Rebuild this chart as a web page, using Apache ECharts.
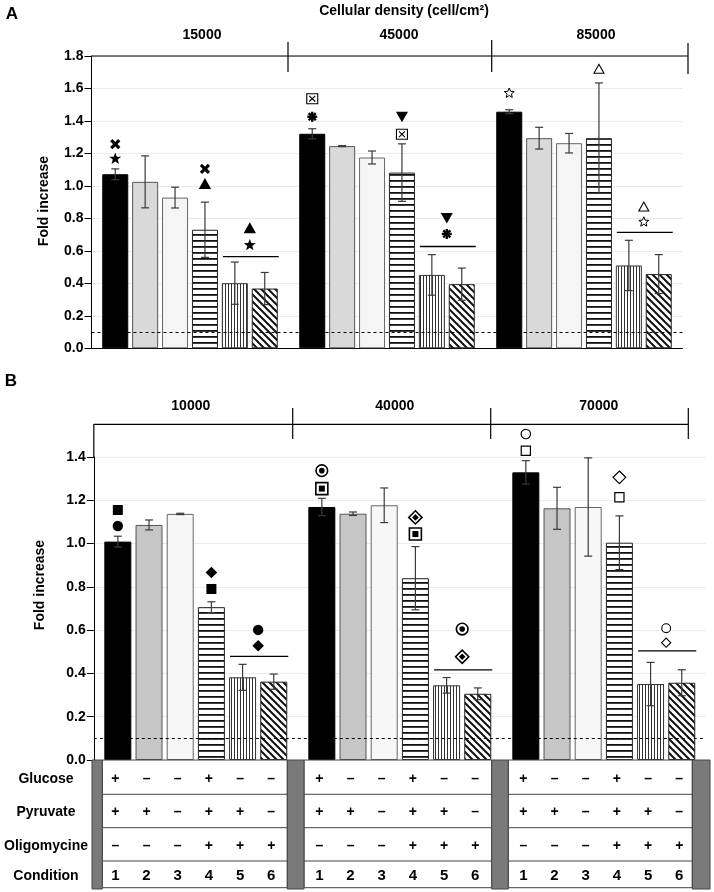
<!DOCTYPE html>
<html><head><meta charset="utf-8">
<script src="https://cdn.jsdelivr.net/npm/echarts@6/dist/echarts.min.js"></script>
<style>html,body{margin:0;padding:0;background:#fff}#c{width:714px;height:892px}</style>
</head><body><div id="c"></div>
<script>
// ---------------- DATA ----------------
const densityA = ['15000', '45000', '85000'];
const densityB = ['10000', '40000', '70000'];
const yTicksA = [0, 0.2, 0.4, 0.6, 0.8, 1.0, 1.2, 1.4, 1.6, 1.8];
const yTicksB = [0, 0.2, 0.4, 0.6, 0.8, 1.0, 1.2, 1.4];
const threshold = 0.1;

// Panel A means (one array per condition, across densities)
const foldA_c1 = [1.072, 1.321, 1.457];
const foldA_c2 = [1.025, 1.245, 1.294];
const foldA_c3 = [0.928, 1.175, 1.263];
const foldA_c4 = [0.730, 1.082, 1.294];
const foldA_c5 = [0.401, 0.452, 0.510];
const foldA_c6 = [0.368, 0.395, 0.457];
// Panel A error bars
const errA_c1 = [0.033, 0.031, 0.012];
const errA_c2 = [0.160, 0.003, 0.067];
const errA_c3 = [0.064, 0.040, 0.060];
const errA_c4 = [0.170, 0.177, 0.340];
const errA_c5 = [0.130, 0.125, 0.155];
const errA_c6 = [0.099, 0.099, 0.120];

// Panel B means
const foldB_c1 = [1.009, 1.169, 1.329];
const foldB_c2 = [1.086, 1.138, 1.163];
const foldB_c3 = [1.137, 1.177, 1.169];
const foldB_c4 = [0.706, 0.840, 1.004];
const foldB_c5 = [0.382, 0.345, 0.351];
const foldB_c6 = [0.362, 0.306, 0.357];
// Panel B error bars
const errB_c1 = [0.025, 0.040, 0.054];
const errB_c2 = [0.023, 0.008, 0.097];
const errB_c3 = [0.003, 0.080, 0.227];
const errB_c4 = [0.025, 0.146, 0.124];
const errB_c5 = [0.060, 0.036, 0.100];
const errB_c6 = [0.035, 0.027, 0.060];

// Significance markers: [density index, bar position (4.5 = between 5 and 6), y value, symbol]
const marksA = [
  [0, 0, 1.257, 'x'], [0, 0, 1.170, 'star'], [0, 3, 1.105, 'x'], [0, 3, 1.012, 'triU'],
  [0, 4.5, 0.740, 'triU'], [0, 4.5, 0.638, 'star'],
  [1, 0, 1.537, 'boxX'], [1, 0, 1.426, 'ast'], [1, 3, 1.426, 'triD'], [1, 3, 1.318, 'boxX'],
  [1, 4.5, 0.802, 'triD'], [1, 4.5, 0.704, 'ast'],
  [2, 0, 1.574, 'starO'], [2, 3, 1.718, 'triUO'], [2, 4.5, 0.870, 'triUO'], [2, 4.5, 0.781, 'starO']
];
const marksB = [
  [0, 0, 1.155, 'sq'], [0, 0, 1.081, 'circ'], [0, 3, 0.866, 'dia'], [0, 3, 0.790, 'sq'],
  [0, 4.5, 0.601, 'circ'], [0, 4.5, 0.528, 'dia'],
  [1, 0, 1.337, 'circDot'], [1, 0, 1.254, 'sqDot'], [1, 3, 1.121, 'diaDot'], [1, 3, 1.044, 'sqDot'],
  [1, 4.5, 0.605, 'circDot'], [1, 4.5, 0.477, 'diaDot'],
  [2, 0, 1.506, 'circO'], [2, 0, 1.429, 'sqO'], [2, 3, 1.306, 'diaO'], [2, 3, 1.214, 'sqO'],
  [2, 4.5, 0.609, 'circOs'], [2, 4.5, 0.542, 'diaOs']
];
// Horizontal significance lines over conditions 5-6: [density index, y value]
const sigLineA = [[0, 0.565], [1, 0.627], [2, 0.714]];
const sigLineB = [[0, 0.479], [1, 0.416], [2, 0.504]];

// Table
const rowLabels = ['Glucose', 'Pyruvate', 'Oligomycine', 'Condition'];
const glucose = ['+', '–', '–', '+', '–', '–'];
const pyruvate = ['+', '+', '–', '+', '+', '–'];
const oligomycine = ['–', '–', '–', '+', '+', '+'];
const conditions = ['1', '2', '3', '4', '5', '6'];

// ---------------- STYLE ----------------
const FONT = '"Liberation Sans", Arial, Helvetica, sans-serif';
const BW_A = 26, GAP_A = 0.15, BW_B = 27, GAP_B = 0.155;

function makePattern(kind) {
  const c = document.createElement('canvas');
  const g = c.getContext('2d');
  if (kind === 'h') {
    c.width = 4; c.height = 6;
    g.fillStyle = '#fff'; g.fillRect(0, 0, 4, 6);
    g.fillStyle = '#111'; g.fillRect(0, 0, 4, 1.8);
  } else if (kind === 'v') {
    c.width = 3; c.height = 4;
    g.fillStyle = '#fff'; g.fillRect(0, 0, 3, 4);
    g.fillStyle = '#333'; g.fillRect(0, 0, 1, 4);
  } else {
    c.width = 7; c.height = 7;
    g.fillStyle = '#fff'; g.fillRect(0, 0, 7, 7);
    g.strokeStyle = '#111'; g.lineWidth = 2;
    [-7, 0, 7].forEach(k => { g.beginPath(); g.moveTo(k - 1, -1); g.lineTo(k + 8, 8); g.stroke(); });
  }
  return c;
}
const patH = makePattern('h'), patV = makePattern('v'), patD = makePattern('d');

function barStyles(gray, light) {
  return [
    { color: '#000', borderColor: '#000', borderWidth: 1 },
    { color: gray, borderColor: '#555', borderWidth: 1 },
    { color: light, borderColor: '#666', borderWidth: 1 },
    { color: { image: patH, repeat: 'repeat' }, borderColor: '#222', borderWidth: 1 },
    { color: { image: patV, repeat: 'repeat' }, borderColor: '#333', borderWidth: 1 },
    { color: { image: patD, repeat: 'repeat' }, borderColor: '#222', borderWidth: 1 }
  ];
}
const stylesA = barStyles('#d9d9d9', '#f5f5f5');
const stylesB = barStyles('#c6c6c6', '#f7f7f7');

function starPts(x, y, R, r) {
  const p = [];
  for (let i = 0; i < 10; i++) {
    const a = -Math.PI / 2 + i * Math.PI / 5;
    const rad = i % 2 === 0 ? R : r;
    p.push([x + rad * Math.cos(a), y + rad * Math.sin(a)]);
  }
  return p;
}
function dia(x, y, r) { return [[x, y - r], [x + r, y], [x, y + r], [x - r, y]]; }

function markerEls(t, x, y) {
  const K = '#000';
  const F = { fill: K, stroke: null };
  const O = w => ({ fill: '#fff', stroke: K, lineWidth: w });
  const ln = (x1, y1, x2, y2, w) => ({ type: 'line', shape: { x1, y1, x2, y2 }, style: { stroke: K, lineWidth: w } });
  switch (t) {
    case 'x': return [ln(x - 4, y - 4, x + 4, y + 4, 3.2), ln(x - 4, y + 4, x + 4, y - 4, 3.2)];
    case 'star': return [{ type: 'polygon', shape: { points: starPts(x, y + 0.5, 6.3, 2.6) }, style: F }];
    case 'starO': return [{ type: 'polygon', shape: { points: starPts(x, y + 0.5, 5.2, 2.3) }, style: O(1) }];
    case 'triU': return [{ type: 'polygon', shape: { points: [[x, y - 6], [x + 6.2, y + 5], [x - 6.2, y + 5]] }, style: F }];
    case 'triUO': return [{ type: 'polygon', shape: { points: [[x, y - 5], [x + 5, y + 4], [x - 5, y + 4]] }, style: O(1.1) }];
    case 'triD': return [{ type: 'polygon', shape: { points: [[x - 6, y - 5], [x + 6, y - 5], [x, y + 5.5]] }, style: F }];
    case 'boxX': return [{ type: 'rect', shape: { x: x - 5.5, y: y - 5, width: 11, height: 10 }, style: O(1.1) },
      ln(x - 3, y - 2.8, x + 3, y + 2.8, 1.1), ln(x - 3, y + 2.8, x + 3, y - 2.8, 1.1)];
    case 'ast': {
      const arr = [];
      for (let i = 0; i < 4; i++) {
        const a = i * Math.PI / 4;
        arr.push(ln(x - 5 * Math.cos(a), y - 5 * Math.sin(a), x + 5 * Math.cos(a), y + 5 * Math.sin(a), 2.4));
      }
      return arr;
    }
    case 'sq': return [{ type: 'rect', shape: { x: x - 5, y: y - 5, width: 10, height: 10 }, style: F }];
    case 'circ': return [{ type: 'circle', shape: { cx: x, cy: y, r: 5.2 }, style: F }];
    case 'dia': return [{ type: 'polygon', shape: { points: dia(x, y, 5.8) }, style: F }];
    case 'circDot': return [{ type: 'circle', shape: { cx: x, cy: y, r: 5.8 }, style: O(1.6) },
      { type: 'circle', shape: { cx: x, cy: y, r: 2.8 }, style: F }];
    case 'sqDot': return [{ type: 'rect', shape: { x: x - 6, y: y - 6, width: 12, height: 12 }, style: O(1.6) },
      { type: 'rect', shape: { x: x - 3, y: y - 3, width: 6, height: 6 }, style: F }];
    case 'diaDot': return [{ type: 'polygon', shape: { points: dia(x, y, 6.6) }, style: O(1.6) },
      { type: 'polygon', shape: { points: dia(x, y, 3.3) }, style: F }];
    case 'circO': return [{ type: 'circle', shape: { cx: x, cy: y, r: 4.7 }, style: O(1.2) }];
    case 'circOs': return [{ type: 'circle', shape: { cx: x, cy: y, r: 4.4 }, style: O(1.1) }];
    case 'sqO': return [{ type: 'rect', shape: { x: x - 4.6, y: y - 4.6, width: 9.2, height: 9.2 }, style: O(1.2) }];
    case 'diaO': return [{ type: 'polygon', shape: { points: dia(x, y, 6.3) }, style: O(1.2) }];
    case 'diaOs': return [{ type: 'polygon', shape: { points: dia(x, y, 4.6) }, style: O(1.1) }];
  }
  return [];
}

// ---------------- SERIES BUILDERS ----------------
function barSeries(xi, yi, means, styles, bw, gap) {
  return means.map((arr, k) => {
    const s = {
      type: 'bar', xAxisIndex: xi, yAxisIndex: yi, data: arr, barWidth: bw,
      barGap: (gap * 100) + '%', itemStyle: styles[k], silent: true, z: 2
    };
    if (k === 0) {
      s.markLine = {
        silent: true, symbol: ['none', 'none'], label: { show: false }, z: 4,
        lineStyle: { color: '#000', type: [3, 3], width: 1.2 }, data: [{ yAxis: threshold }]
      };
    }
    return s;
  });
}
function errorSeries(xi, yi, means, errs, bw, gap) {
  const data = [];
  means.forEach((arr, k) => arr.forEach((m, j) => data.push([j, m, errs[k][j], k])));
  return {
    type: 'custom', xAxisIndex: xi, yAxisIndex: yi, z: 6, clip: false, silent: true, data,
    encode: { x: 0, y: 1 },
    renderItem: (p, api) => {
      const j = api.value(0), m = api.value(1), e = api.value(2), k = api.value(3);
      const per = bw * (1 + gap);
      const x = api.coord([j, m])[0] + (k - 2.5) * per;
      const yt = api.coord([j, m + e])[1], yb = api.coord([j, m - e])[1];
      const st = { stroke: '#3a3a3a', lineWidth: 1.2 };
      return {
        type: 'group', children: [
          { type: 'line', shape: { x1: x, y1: yt, x2: x, y2: yb }, style: st },
          { type: 'line', shape: { x1: x - 4, y1: yt, x2: x + 4, y2: yt }, style: st },
          { type: 'line', shape: { x1: x - 4, y1: yb, x2: x + 4, y2: yb }, style: st }
        ]
      };
    }
  };
}
function markerSeries(xi, yi, marks, bw, gap) {
  return {
    type: 'custom', xAxisIndex: xi, yAxisIndex: yi, z: 7, clip: false, silent: true,
    data: marks.map(m => [m[0], m[2], m[1]]),
    encode: { x: 0, y: 1 },
    renderItem: (p, api) => {
      const mk = marks[p.dataIndex];
      const per = bw * (1 + gap);
      const c = api.coord([api.value(0), api.value(1)]);
      const x = c[0] + (api.value(2) - 2.5) * per;
      return { type: 'group', children: markerEls(mk[3], x, c[1]) };
    }
  };
}
function sigLineSeries(xi, yi, lines, bw, gap) {
  return {
    type: 'custom', xAxisIndex: xi, yAxisIndex: yi, z: 7, clip: false, silent: true,
    data: lines, encode: { x: 0, y: 1 },
    renderItem: (p, api) => {
      const per = bw * (1 + gap);
      const c = api.coord([api.value(0), api.value(1)]);
      const x1 = c[0] + 1.5 * per - bw / 2 + 1, x2 = c[0] + 2.5 * per + bw / 2 + 1;
      return { type: 'line', shape: { x1, y1: c[1], x2, y2: c[1] }, style: { stroke: '#000', lineWidth: 1.3 } };
    }
  };
}

const meansA = [foldA_c1, foldA_c2, foldA_c3, foldA_c4, foldA_c5, foldA_c6];
const errsA = [errA_c1, errA_c2, errA_c3, errA_c4, errA_c5, errA_c6];
const meansB = [foldB_c1, foldB_c2, foldB_c3, foldB_c4, foldB_c5, foldB_c6];
const errsB = [errB_c1, errB_c2, errB_c3, errB_c4, errB_c5, errB_c6];

const lbl = { fontFamily: FONT, fontWeight: 'bold', fontSize: 14, color: '#000' };
function yAxis(gi, ticks) {
  return {
    type: 'value', gridIndex: gi, min: ticks[0], max: ticks[ticks.length - 1], interval: 0.2,
    axisLine: { show: true, lineStyle: { color: '#000', width: 1 } },
    axisTick: { show: true, length: 7, inside: false, lineStyle: { color: '#000' } },
    axisLabel: Object.assign({ margin: 8, formatter: v => v.toFixed(1) }, lbl),
    splitLine: { show: true, lineStyle: { color: '#ebebeb', width: 1 } }
  };
}
function xBottom(gi, cats) {
  return {
    type: 'category', gridIndex: gi, data: cats, position: 'bottom',
    axisLine: { show: true, lineStyle: { color: '#000', width: 1 } },
    axisTick: { show: false }, axisLabel: { show: false }, splitLine: { show: false }
  };
}
function xTop(gi, cats, margin, pad) {
  return {
    type: 'category', gridIndex: gi, data: cats, position: 'top',
    axisLine: { show: false }, axisTick: { show: false },
    axisLabel: Object.assign({ margin, padding: pad, interval: 0 }, lbl), splitLine: { show: false }
  };
}

const chart = echarts.init(document.getElementById('c'), null, { renderer: 'canvas' });
chart.setOption({
  animation: false,
  backgroundColor: '#fff',
  textStyle: { fontFamily: FONT },
  grid: [
    { left: 91.5, top: 56, width: 591, height: 292.3, containLabel: false, outerBoundsMode: 'none' },
    { left: 93.8, top: 457, width: 612, height: 303, containLabel: false, outerBoundsMode: 'none' }
  ],
  xAxis: [xBottom(0, densityA), xTop(0, densityA, 14, [0, 0, 0, 24]),
          xBottom(1, densityB), xTop(1, densityB, 44, [0, 10, 0, 0])],
  yAxis: [yAxis(0, yTicksA), yAxis(1, yTicksB)],
  series: [].concat(
    barSeries(0, 0, meansA, stylesA, BW_A, GAP_A),
    [errorSeries(0, 0, meansA, errsA, BW_A, GAP_A), markerSeries(0, 0, marksA, BW_A, GAP_A), sigLineSeries(0, 0, sigLineA, BW_A, GAP_A)],
    barSeries(2, 1, meansB, stylesB, BW_B, GAP_B),
    [errorSeries(2, 1, meansB, errsB, BW_B, GAP_B), markerSeries(2, 1, marksB, BW_B, GAP_B), sigLineSeries(2, 1, sigLineB, BW_B, GAP_B)]
  )
});

// ---------------- ANNOTATIONS / TABLE ----------------
const G = [];
const L = (x1, y1, x2, y2, w, c) => G.push({ type: 'line', silent: true, z: 10, shape: { x1, y1, x2, y2 }, style: { stroke: c || '#000', lineWidth: w || 1.2 } });
const T = (text, x, y, opt) => G.push(Object.assign({
  type: 'text', silent: true, z: 10, x, y,
  style: Object.assign({ text, fontFamily: FONT, fontWeight: 'bold', fontSize: 14, fill: '#000', align: 'center', verticalAlign: 'middle' }, (opt && opt.style) || {})
}, (opt && opt.el) || {}));

// panel letters and titles
T('A', 12, 14, { style: { fontSize: 17 } });
T('B', 11, 381, { style: { fontSize: 17 } });
T('Cellular density (cell/cm²)', 404, 11);
T('Fold increase', 44, 201, { el: { rotation: Math.PI / 2 } });
T('Fold increase', 40, 585, { el: { rotation: Math.PI / 2 } });

// bracket A
L(91.5, 56, 688, 56); L(288, 42, 288, 72); L(491.7, 40, 491.7, 72); L(688, 43, 688, 74);
// bracket B
L(93.8, 424.3, 688.3, 424.3); L(93.8, 424.3, 93.8, 457); L(292.7, 408, 292.7, 439);
L(490.7, 408, 490.7, 439); L(688.3, 408, 688.3, 439);

// table frame
const tTop = 760, tBot = 887.7, rowsY = [760, 794.3, 827.7, 861, 887.7];
const blocks = [[92, 102.3], [287.3, 304], [491.7, 508.3], [692.3, 710]];
for (let i = 0; i < 3; i++) {
  const xa = blocks[i][1], xb = blocks[i + 1][0];
  G.push({ type: 'rect', silent: true, z: 9, shape: { x: xa, y: tTop, width: xb - xa, height: tBot - tTop }, style: { fill: '#fff', stroke: '#444', lineWidth: 1 } });
  for (let r = 1; r < 4; r++) L(xa, rowsY[r], xb, rowsY[r], 1, '#444');
}
blocks.forEach(b => G.push({ type: 'rect', silent: true, z: 9, shape: { x: b[0], y: tTop, width: b[1] - b[0], height: tBot + 1.3 - tTop }, style: { fill: '#7a7a7a', stroke: '#444', lineWidth: 1 } }));

const rowCenters = [777.5, 811, 844.5, 874.5];
rowLabels.forEach((s, r) => T(s, 46, rowCenters[r] + 1.5));
const tableRows = [glucose, pyruvate, oligomycine, conditions];
const perB = BW_B * (1 + GAP_B);
for (let j = 0; j < densityB.length; j++) {
  const cx = chart.convertToPixel({ xAxisIndex: 2 }, j);
  tableRows.forEach((row, r) => {
    row.forEach((s, k) => {
      const x = cx + (k - 2.5) * perB - 2.5;
      T(s, x, rowCenters[r] + 1.5, { style: { fontSize: r === 3 ? 15 : 14 } });
    });
  });
}
chart.setOption({ graphic: G });
</script>
</body></html>
